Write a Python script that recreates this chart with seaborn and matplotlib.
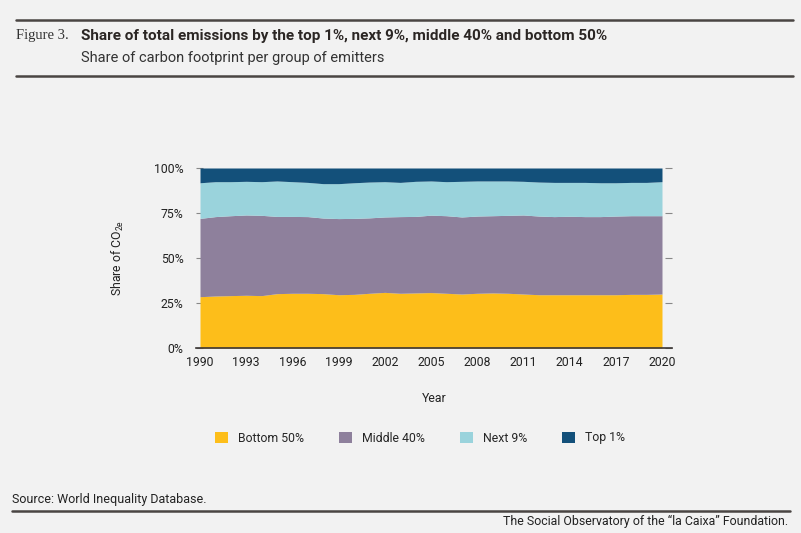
import numpy as np
import pandas as pd
import seaborn as sns
import matplotlib.pyplot as plt
from matplotlib.lines import Line2D
from matplotlib.ticker import PercentFormatter

years = list(range(1990, 2021))
bottom_50 = [28.5, 28.9, 29.1, 29.3, 29.1, 30.2, 30.4, 30.4, 30.2, 29.6, 29.8,
             30.4, 30.9, 30.4, 30.6, 30.8, 30.4, 30.0, 30.4, 30.6, 30.4,
             30.0, 29.6, 29.6, 29.6, 29.6, 29.6, 29.6, 29.8, 29.8, 30.0]
middle_40 = [43.5, 44.1, 44.4, 44.6, 44.6, 42.9, 42.7, 42.6, 42.0, 42.3, 42.2,
             41.9, 41.9, 42.6, 42.5, 43.0, 43.1, 42.8, 42.9, 42.9, 43.3,
             43.9, 43.7, 43.4, 43.6, 43.4, 43.4, 43.7, 43.7, 43.7, 43.5]
next_9 = [19.8, 19.4, 18.9, 18.7, 18.7, 19.7, 19.3, 19.0, 19.1, 19.4, 19.8,
          19.9, 19.6, 19.0, 19.5, 19.0, 18.9, 19.8, 19.5, 19.3, 19.1,
          18.7, 18.9, 19.0, 18.8, 19.0, 18.8, 18.5, 18.5, 18.5, 18.9]
top_1 = [8.2, 7.6, 7.6, 7.4, 7.6, 7.2, 7.6, 8.0, 8.7, 8.7, 8.2,
         7.8, 7.6, 8.0, 7.4, 7.2, 7.6, 7.4, 7.2, 7.2, 7.2,
         7.4, 7.8, 8.0, 8.0, 8.0, 8.2, 8.2, 8.0, 8.0, 7.6]
groups = ["Bottom 50%", "Middle 40%", "Next 9%", "Top 1%"]
tick_years = list(range(1990, 2021, 3))

colors = ["#FDBE1A", "#8E809C", "#9AD3DC", "#13507A"]
bg = "#F2F2F2"
dark = "#3a3533"
fs = 8.8

df = pd.DataFrame({"Year": years, groups[0]: bottom_50, groups[1]: middle_40,
                   groups[2]: next_9, groups[3]: top_1})

sns.set_theme(style="white", rc={"figure.facecolor": bg, "axes.facecolor": bg,
                                 "savefig.facecolor": bg})
plt.rcParams["font.family"] = ["Roboto", "DejaVu Sans"]

fig = plt.figure(figsize=(8.01, 5.33), dpi=100)
ax = fig.add_axes([196 / 801, 1 - 348 / 533, 476 / 801, 180 / 533])

ax.stackplot(df["Year"], [df[g] / 100 for g in groups], colors=colors,
             labels=groups, linewidth=0)

ax.set_xlim(1989.74, 2020.65)
ax.set_ylim(0, 1)
ax.set_xticks(tick_years)
ax.set_yticks([0, 0.25, 0.5, 0.75, 1.0])
ax.yaxis.set_major_formatter(PercentFormatter(1.0, decimals=0))
sns.despine(ax=ax, left=True, right=True, top=True)
ax.spines["bottom"].set_color(dark)
ax.spines["bottom"].set_linewidth(1.2)
ax.tick_params(axis="x", length=0, pad=6, labelsize=fs, colors="#222222")
ax.tick_params(axis="y", which="both", length=5, width=0.8, color="#888888",
               direction="in", left=True, right=True, pad=9, labelsize=fs,
               labelcolor="#222222")
ax.set_xlabel("Year", fontsize=fs, color="#222222", labelpad=16)
ax.set_ylabel("Share of CO$_{\\mathregular{2e}}$", fontsize=fs, color="#222222",
              labelpad=20)

ax.legend(loc="center left", bbox_to_anchor=(19 / 476, -90 / 180), ncol=4,
          frameon=False, fontsize=fs, handlelength=1.05, handleheight=1.05,
          handletextpad=0.8, columnspacing=2.9, borderpad=0, borderaxespad=0)

# header and footer rules
for yy in (1 - 19.5 / 533, 1 - 76 / 533):
    fig.add_artist(Line2D([16 / 801, 793 / 801], [yy, yy], color="#4a4543", lw=1.8))
fig.add_artist(Line2D([12 / 801, 790 / 801], [1 - 511 / 533] * 2, color="#4a4543", lw=1.8))

fig.text(16 / 801, 1 - 36 / 533, "Figure 3.", family=["Liberation Serif"],
         fontsize=10.5, color="#333333", va="center")
fig.text(81 / 801, 1 - 36 / 533,
         "Share of total emissions by the top 1%, next 9%, middle 40% and bottom 50%",
         fontsize=10.95, weight="bold", color="#2b2624", va="center")
fig.text(81 / 801, 1 - 58 / 533, "Share of carbon footprint per group of emitters",
         fontsize=10.5, color="#333333", va="center")
fig.text(12 / 801, 1 - 500 / 533, "Source: World Inequality Database.",
         fontsize=9.0, color="#222222", va="center")
fig.text(788 / 801, 1 - 521.5 / 533,
         "The Social Observatory of the \u201cla Caixa\u201d Foundation.",
         fontsize=8.9, color="#222222", va="center", ha="right")

fig.savefig("out.png", dpi=100)
